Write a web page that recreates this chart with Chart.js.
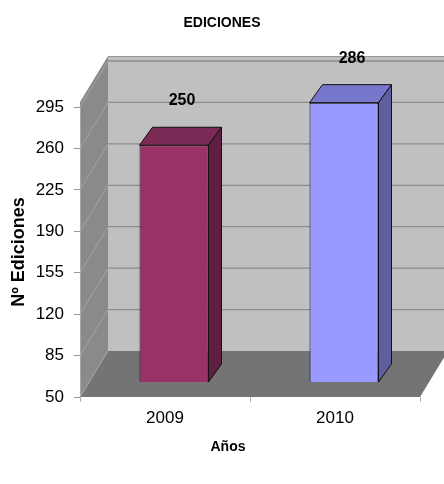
<!DOCTYPE html>
<html>
<head>
<meta charset="utf-8">
<script src="https://cdn.jsdelivr.net/npm/chart.js@4/dist/chart.umd.min.js"></script>
<style>
html,body{margin:0;padding:0;background:#fff;}
#wrap{width:444px;height:484px;}
</style>
</head>
<body>
<div id="wrap"><canvas id="c" width="444" height="484"></canvas></div>
<script>
const categories = ['2009', '2010'];
const ediciones = [250, 286];
const yTicks = [50, 85, 120, 155, 190, 225, 260, 295];
const barFront = ['#993366', '#9999FF'];
const barTop = ['#7a2a55', '#7777cc'];
const barSide = ['#5e1f42', '#5f5fa0'];
const chartTitle = 'EDICIONES';
const xTitle = 'Años';
const yTitle = 'Nº Ediciones';

const FONT = "'Liberation Sans', Arial, sans-serif";
const WALL_D = {dx: 28, dy: -46};
const BAR_SHIFT = {dx: 9, dy: -15};
const BAR_D = {dx: 13, dy: -18};

const wallsPlugin = {
  id: 'walls',
  beforeDraw(chart) {
    const {ctx, chartArea, scales} = chart;
    const y = scales.y;
    const L = chartArea.left, R = chartArea.right, B = chartArea.bottom;
    const T = y.getPixelForValue(yTicks[yTicks.length - 1]) - 5;
    const dx = WALL_D.dx, dy = WALL_D.dy;
    ctx.save();
    ctx.fillStyle = '#747474';
    ctx.beginPath();
    ctx.moveTo(L, B); ctx.lineTo(R, B); ctx.lineTo(R + dx, B + dy); ctx.lineTo(L + dx, B + dy);
    ctx.closePath(); ctx.fill();
    ctx.fillStyle = '#c0c0c0';
    ctx.fillRect(L + dx, T + dy, R - L, B - T);
    ctx.fillStyle = '#8a8a8a';
    ctx.beginPath();
    ctx.moveTo(L, T); ctx.lineTo(L + dx, T + dy); ctx.lineTo(L + dx, B + dy); ctx.lineTo(L, B);
    ctx.closePath(); ctx.fill();
    yTicks.forEach((v, i) => {
      const py = y.getPixelForValue(v);
      if (i > 0) {
        ctx.strokeStyle = '#8c8c8c';
        ctx.lineWidth = 1.3;
        ctx.beginPath();
        ctx.moveTo(L + dx, py + dy); ctx.lineTo(R + dx, py + dy);
        ctx.stroke();
      }
      ctx.strokeStyle = '#a4a4a4';
      ctx.lineWidth = 1;
      ctx.beginPath();
      ctx.moveTo(L, py); ctx.lineTo(L + dx, py + dy);
      ctx.stroke();
    });
    ctx.strokeStyle = '#9a9a9a';
    ctx.lineWidth = 1;
    ctx.beginPath();
    ctx.moveTo(L + dx, T + dy + 0.5); ctx.lineTo(R + dx, T + dy + 0.5);
    ctx.stroke();
    ctx.restore();
  },
  beforeDatasetsDraw(chart) {
    chart.ctx.save();
    chart.ctx.translate(BAR_SHIFT.dx, BAR_SHIFT.dy);
  },
  afterDatasetsDraw(chart) {
    const {ctx, scales} = chart;
    const meta = chart.getDatasetMeta(0);
    const bot = scales.y.getPixelForValue(scales.y.min);
    meta.data.forEach((bar, i) => {
      const x1 = bar.x - bar.width / 2, x2 = bar.x + bar.width / 2;
      const top = bar.y;
      ctx.lineWidth = 1;
      ctx.strokeStyle = '#111';
      ctx.fillStyle = barTop[i];
      ctx.beginPath();
      ctx.moveTo(x1, top); ctx.lineTo(x2, top); ctx.lineTo(x2 + BAR_D.dx, top + BAR_D.dy); ctx.lineTo(x1 + BAR_D.dx, top + BAR_D.dy);
      ctx.closePath(); ctx.fill(); ctx.stroke();
      ctx.fillStyle = barSide[i];
      ctx.beginPath();
      ctx.moveTo(x2, top); ctx.lineTo(x2 + BAR_D.dx, top + BAR_D.dy); ctx.lineTo(x2 + BAR_D.dx, bot + BAR_D.dy); ctx.lineTo(x2, bot);
      ctx.closePath(); ctx.fill(); ctx.stroke();
    });
    ctx.restore();
    ctx.save();
    ctx.font = "bold 16px " + FONT;
    ctx.fillStyle = '#000';
    ctx.textAlign = 'center';
    ctx.textBaseline = 'middle';
    meta.data.forEach((bar, i) => {
      ctx.fillText(String(ediciones[i]), bar.x + 17, bar.y - 59.5);
    });
    ctx.restore();
  },
  afterDraw(chart) {
    const {ctx} = chart;
    ctx.save();
    ctx.fillStyle = '#000';
    ctx.textAlign = 'center';
    ctx.textBaseline = 'middle';
    ctx.font = "bold 14px " + FONT;
    ctx.fillText(chartTitle, 222, 23);
    ctx.fillText(xTitle, 228, 447);
    ctx.restore();
  }
};

new Chart(document.getElementById('c'), {
  type: 'bar',
  data: {
    labels: categories,
    datasets: [{
      data: ediciones,
      backgroundColor: barFront,
      borderColor: '#111',
      borderWidth: 1,
      borderSkipped: false,
      barPercentage: 0.406,
      categoryPercentage: 1
    }]
  },
  options: {
    responsive: false,
    animation: false,
    devicePixelRatio: 1,
    layout: {padding: {left: 0, right: 24, top: 107, bottom: 0}},
    plugins: {
      legend: {display: false},
      tooltip: {enabled: false},
      title: {display: false}
    },
    scales: {
      x: {
        type: 'category',
        offset: true,
        afterFit(s) { s.height = 87; },
        grid: {display: true, offset: true, drawOnChartArea: false, drawTicks: true, tickLength: 5, color: '#b0b0b0'},
        border: {display: false},
        ticks: {color: '#000', font: {family: FONT, size: 17}, padding: 6}
      },
      y: {
        min: 50,
        max: 295,
        afterFit(s) { s.width = 80; },
        afterBuildTicks(s) { s.ticks = yTicks.map(v => ({value: v})); },
        grid: {display: true, drawOnChartArea: false, drawTicks: true, tickLength: 6, color: '#9a9a9a'},
        border: {display: true, color: '#a8a8a8'},
        ticks: {color: '#000', font: {family: FONT, size: 17}, padding: 10},
        title: {display: true, text: yTitle, color: '#000', font: {family: FONT, size: 18, weight: 'bold'}, padding: {top: 8, bottom: 0}}
      }
    }
  },
  plugins: [wallsPlugin]
});
</script>
</body>
</html>
